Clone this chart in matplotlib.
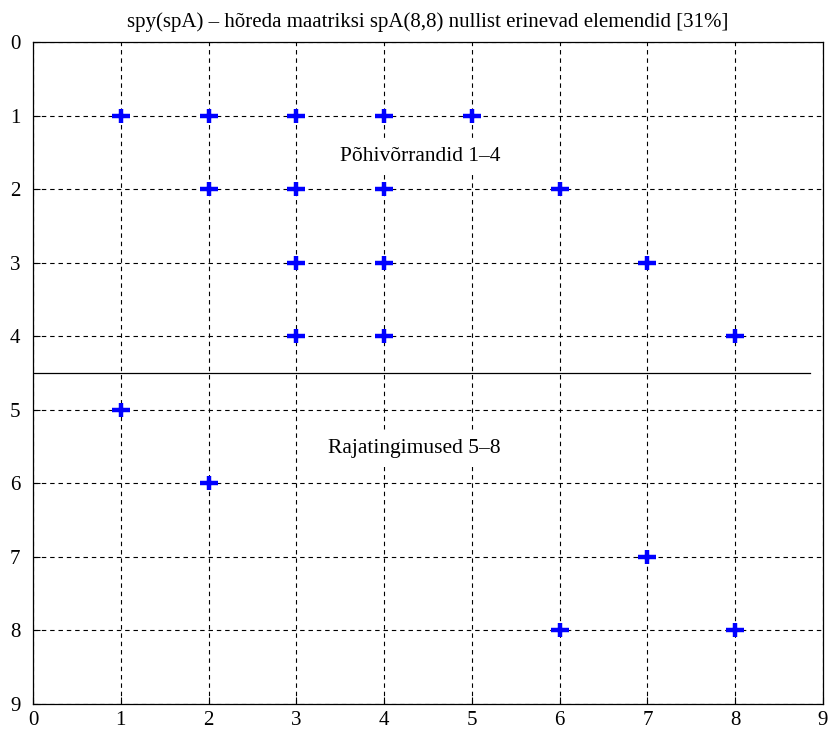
import matplotlib
matplotlib.use("Agg")
import matplotlib.pyplot as plt
from matplotlib.path import Path

plt.rcParams['font.family'] = ['Liberation Serif', 'DejaVu Serif']

# Nonzero entries of the 8x8 sparse matrix (row, column)
rows = [1, 1, 1, 1, 1, 2, 2, 2, 2, 3, 3, 3, 4, 4, 4, 5, 6, 7, 8, 8]
cols = [1, 2, 3, 4, 5, 2, 3, 4, 6, 3, 4, 7, 3, 4, 8, 1, 2, 7, 6, 8]
n = 8
ticks = list(range(0, 10))
density = round(100 * len(rows) / (n * n))

# Plus marker, wider than tall
plus = Path([(-1, 0), (1, 0), (0, -0.7), (0, 0.7)],
            [Path.MOVETO, Path.LINETO, Path.MOVETO, Path.LINETO])

fig = plt.figure(figsize=(8.3, 7.29), dpi=100)
ax = fig.add_axes([0.0398, 0.0343, 0.9518, 0.9081])

ax.plot(cols, rows, linestyle='none', marker=plus, color='#0000ff',
        markersize=13.5, markeredgewidth=3.2, zorder=3)

ax.set_xlim(0, 9)
ax.set_ylim(9, 0)
ax.set_xticks(ticks)
ax.set_yticks(ticks)
ax.tick_params(direction='in', length=5, labelsize=15, width=0.8,
               top=False, right=False)
ax.tick_params(axis='y', pad=9)
ax.tick_params(axis='x', pad=5)
ax.grid(True, linestyle=(0, (4, 3.5)), color='black', linewidth=0.8)
for s in ax.spines.values():
    s.set_linewidth(0.9)

# Separator between equations and boundary conditions
ax.plot([0, 8.85], [4.5, 4.5], color='black', linewidth=0.9)
box = dict(facecolor='white', edgecolor='none', pad=6)
ax.text(3.5, 1.56, 'Põhivõrrandid 1–4', fontsize=15.5, va='center', ha='left',
        bbox=box, zorder=4)
ax.text(3.36, 5.53, 'Rajatingimused 5–8', fontsize=15.5, va='center', ha='left',
        bbox=box, zorder=4)

ax.set_title(f'spy(spA) – hõreda maatriksi spA({n},{n}) nullist erinevad elemendid [{density}%]',
             fontsize=15, pad=10.5)

fig.savefig('out.png', dpi=100)
